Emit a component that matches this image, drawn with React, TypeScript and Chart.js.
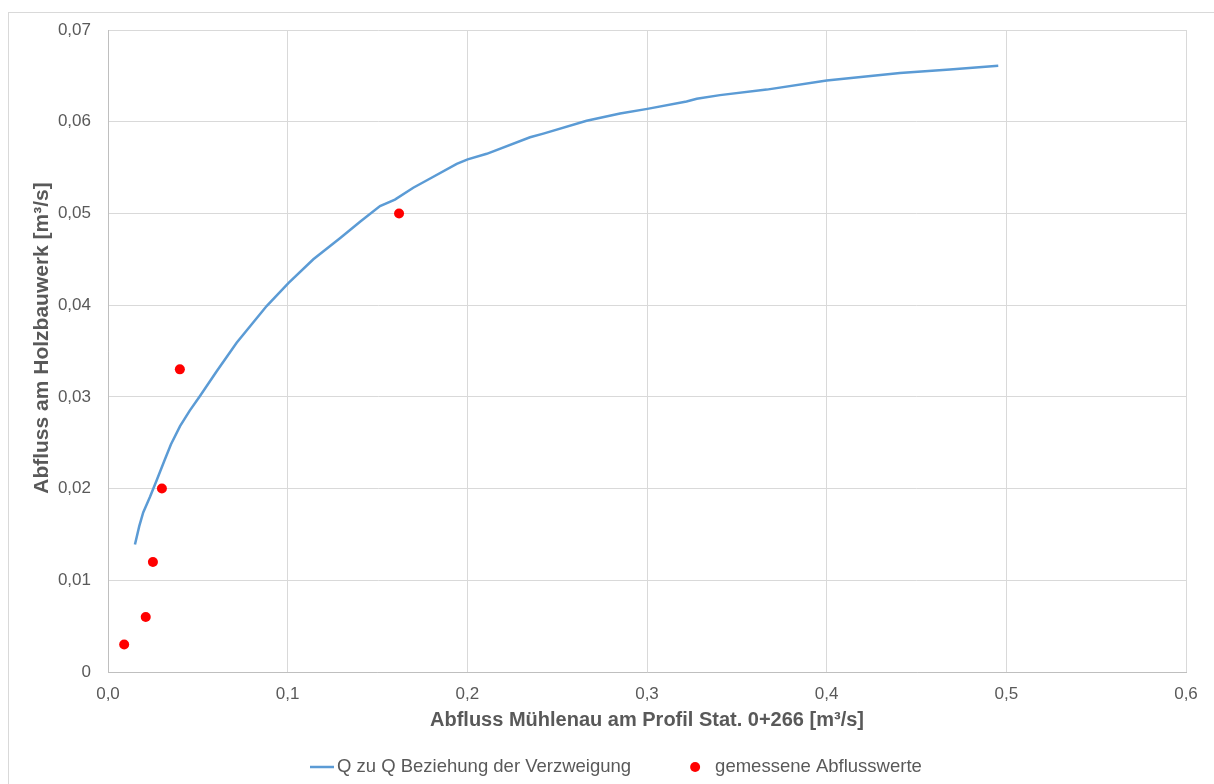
import React, { useEffect, useRef } from "react";
import { Chart, registerables } from "chart.js";

Chart.register(...registerables);

// Q–Q relation of the branch (discharge Mühlenau vs. discharge at the timber structure)
const curveX = [
  0.015, 0.0174, 0.0196, 0.0234, 0.0271, 0.0317, 0.035, 0.0401, 0.0455, 0.0512,
  0.0605, 0.0716, 0.0883, 0.1004, 0.1143, 0.1291, 0.1403, 0.1514, 0.1597, 0.1699,
  0.1783, 0.1941, 0.2002, 0.2108, 0.2349, 0.2423, 0.2664, 0.285, 0.3002, 0.322,
  0.3277, 0.3406, 0.3666, 0.4, 0.4408, 0.4686, 0.4955,
];
const curveY = [
  0.0139, 0.0159, 0.0174, 0.0191, 0.0209, 0.0232, 0.0248, 0.0268, 0.0285, 0.0301,
  0.0328, 0.0359, 0.0399, 0.0424, 0.0450, 0.0473, 0.0491, 0.0508, 0.0515, 0.0528,
  0.0537, 0.0554, 0.0559, 0.0565, 0.0583, 0.0587, 0.0601, 0.0609, 0.0614, 0.0622,
  0.0625, 0.0629, 0.0635, 0.0645, 0.0653, 0.0657, 0.0661,
];

// Measured discharges
const measuredX = [0.009, 0.021, 0.025, 0.03, 0.04, 0.162];
const measuredY = [0.003, 0.006, 0.012, 0.02, 0.033, 0.05];

const seriesLabels = ["Q zu Q Beziehung der Verzweigung", "gemessene Abflusswerte"];
const xTitle = "Abfluss Mühlenau am Profil Stat. 0+266 [m³/s]";
const yTitle = "Abfluss am Holzbauwerk [m³/s]";

const FONT = "'Liberation Sans', Arial, sans-serif";
const TEXT = "#595959";
const LINE_BLUE = "#5b9bd5";
const DOT_RED = "#ff0000";

// Outer frame of the chart object
const framePlugin = {
  id: "frame",
  beforeDraw(chart: any) {
    const ctx = chart.ctx;
    ctx.save();
    ctx.fillStyle = "#ffffff";
    ctx.fillRect(0, 0, chart.width, chart.height);
    ctx.strokeStyle = "#d9d9d9";
    ctx.lineWidth = 1;
    ctx.strokeRect(8.5, 12.5, chart.width + 20, chart.height + 20);
    ctx.restore();
  },
};

// Vertical axis title, placed slightly above the plot's vertical centre
const yTitlePlugin = {
  id: "yTitle",
  afterDraw(chart: any) {
    const ctx = chart.ctx;
    ctx.save();
    ctx.translate(42, 338);
    ctx.rotate(-Math.PI / 2);
    ctx.font = `bold 21px ${FONT}`;
    ctx.fillStyle = TEXT;
    ctx.textAlign = "center";
    ctx.textBaseline = "middle";
    ctx.fillText(yTitle, 0, 0);
    ctx.restore();
  },
};

// Legend row below the x-axis title
const legendPlugin = {
  id: "bottomLegend",
  afterDraw(chart: any) {
    const ctx = chart.ctx;
    const ds = chart.data.datasets;
    const y = 767;
    ctx.save();
    ctx.font = `18.5px ${FONT}`;
    ctx.textBaseline = "middle";
    ctx.textAlign = "left";
    let x = 310;
    // line sample
    ctx.strokeStyle = ds[0].borderColor;
    ctx.lineWidth = 2.5;
    ctx.beginPath();
    ctx.moveTo(x, y);
    ctx.lineTo(x + 24, y);
    ctx.stroke();
    x += 27;
    ctx.fillStyle = TEXT;
    ctx.fillText(ds[0].label, x, y);
    x += ctx.measureText(ds[0].label).width + 64;
    // marker sample
    ctx.fillStyle = ds[1].backgroundColor;
    ctx.beginPath();
    ctx.arc(x, y, 5, 0, Math.PI * 2);
    ctx.fill();
    x += 20;
    ctx.fillStyle = TEXT;
    ctx.fillText(ds[1].label, x, y);
    ctx.restore();
  },
};

export default function App() {
  const canvasRef = useRef<HTMLCanvasElement | null>(null);

  useEffect(() => {
    if (!canvasRef.current) return;
    const chart = new Chart(canvasRef.current, {
      type: "scatter",
      data: {
        datasets: [
          {
            label: seriesLabels[0],
            data: curveX.map((x, i) => ({ x, y: curveY[i] })),
            showLine: true,
            borderColor: LINE_BLUE,
            backgroundColor: LINE_BLUE,
            borderWidth: 2.5,
            pointRadius: 0,
            pointHoverRadius: 0,
            tension: 0,
            order: 2,
          },
          {
            label: seriesLabels[1],
            data: measuredX.map((x, i) => ({ x, y: measuredY[i] })),
            showLine: false,
            borderColor: DOT_RED,
            backgroundColor: DOT_RED,
            pointRadius: 5,
            pointBorderWidth: 0,
            order: 1,
          },
        ],
      },
      options: {
        animation: false,
        responsive: false,
        maintainAspectRatio: false,
        layout: { padding: { left: 0, top: 30, right: 28, bottom: 44 } },
        plugins: {
          legend: { display: false },
          tooltip: { enabled: false },
        },
        scales: {
          x: {
            type: "linear",
            min: 0,
            max: 0.6,
            afterFit: (scale: any) => {
              scale.height = 68;
            },
            ticks: {
              stepSize: 0.1,
              padding: 12,
              color: TEXT,
              font: { family: FONT, size: 17 },
              callback: (v: any) => Number(v).toFixed(1).replace(".", ","),
            },
            grid: { color: "#d9d9d9", lineWidth: 1, drawTicks: false },
            border: { color: "#bfbfbf", width: 1 },
            title: {
              display: true,
              text: xTitle,
              color: TEXT,
              font: { family: FONT, size: 20, weight: "bold" },
              padding: { top: 0, bottom: 8 },
            },
          },
          y: {
            type: "linear",
            min: 0,
            max: 0.07,
            afterFit: (scale: any) => {
              scale.width = 108;
            },
            ticks: {
              stepSize: 0.01,
              padding: 17,
              color: TEXT,
              font: { family: FONT, size: 17 },
              callback: (v: any) =>
                Number(v) === 0 ? "0" : Number(v).toFixed(2).replace(".", ","),
            },
            grid: { color: "#d9d9d9", lineWidth: 1, drawTicks: false },
            border: { color: "#bfbfbf", width: 1 },
            title: { display: false },
          },
        },
      },
      plugins: [framePlugin, yTitlePlugin, legendPlugin],
    });
    return () => chart.destroy();
  }, []);

  return (
    <div
      style={{
        position: "fixed",
        left: 0,
        top: 0,
        width: 1214,
        height: 784,
        background: "#ffffff",
      }}
    >
      <canvas ref={canvasRef} width={1214} height={784} style={{ display: "block" }} />
    </div>
  );
}
